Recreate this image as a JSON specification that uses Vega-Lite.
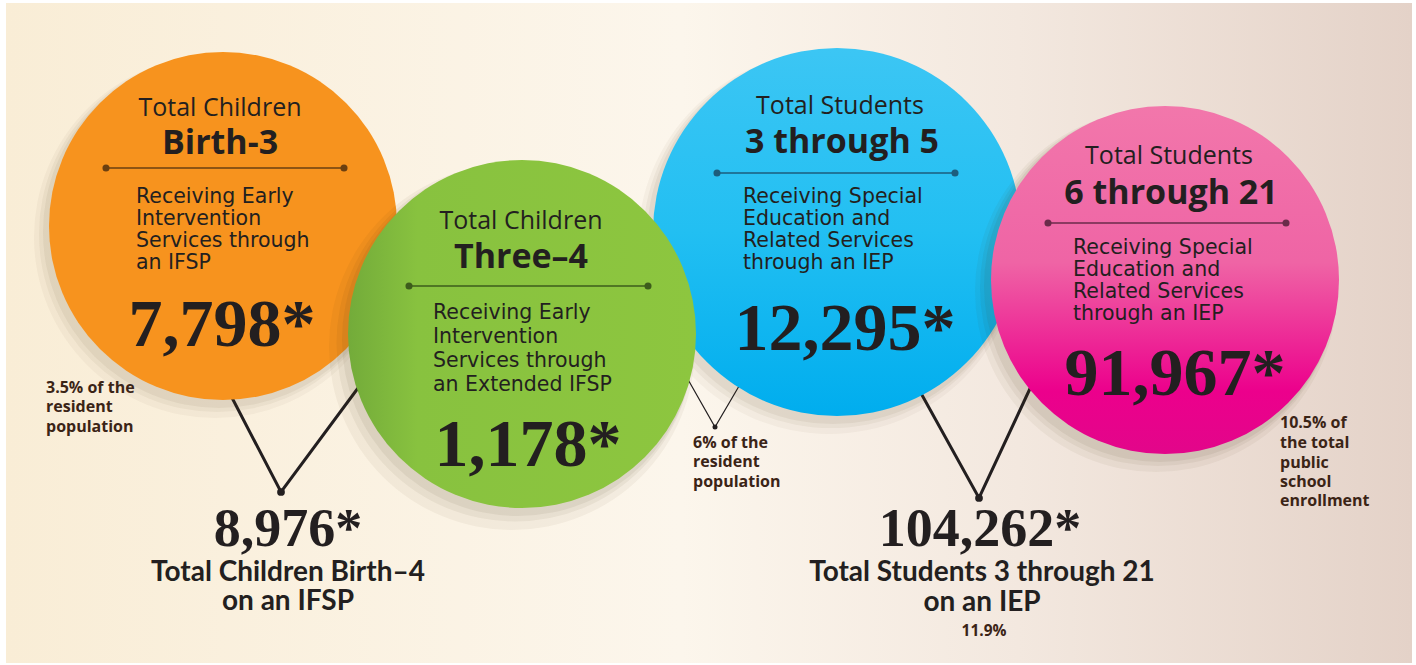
{
  "$schema": "https://vega.github.io/schema/vega-lite/v6.json",
  "autosize": {"type": "fit", "contains": "padding"},
  "width": 1416,
  "height": 665,
  "padding": {"left": 6, "top": 3, "right": 4, "bottom": 2},
  "background": "#ffffff",
  "config": {"view": {"stroke": null}},
  "datasets": {
    "circles": [
      {"group": "birth3", "x": 223, "y": 226},
      {"group": "s3to5", "x": 837, "y": 232},
      {"group": "three4", "x": 522, "y": 334},
      {"group": "s6to21", "x": 1165, "y": 280}
    ],
    "dividers": [
      {"group": "birth3", "x": 106, "xb": 344, "y": 168},
      {"group": "three4", "x": 409, "xb": 648, "y": 286},
      {"group": "s3to5", "x": 717, "xb": 955, "y": 173},
      {"group": "s6to21", "x": 1048, "xb": 1286, "y": 223}
    ],
    "connectors": [
      {"path": "A", "order": 1, "x": 228, "y": 390},
      {"path": "A", "order": 2, "x": 281, "y": 492},
      {"path": "A", "order": 3, "x": 361, "y": 384},
      {"path": "B", "order": 1, "x": 686, "y": 376},
      {"path": "B", "order": 2, "x": 715, "y": 427},
      {"path": "B", "order": 3, "x": 742, "y": 381},
      {"path": "C", "order": 1, "x": 917, "y": 386},
      {"path": "C", "order": 2, "x": 979, "y": 498},
      {"path": "C", "order": 3, "x": 1034, "y": 380}
    ],
    "labels": [
      {"group": "birth3", "role": "title", "text": "Total Children", "x": 220, "y": 108},
      {"group": "birth3", "role": "sub", "text": "Birth-3", "x": 220, "y": 144},
      {"group": "birth3", "role": "body", "text": "Receiving Early", "x": 136, "y": 197},
      {"group": "birth3", "role": "body", "text": "Intervention", "x": 136, "y": 219},
      {"group": "birth3", "role": "body", "text": "Services through", "x": 136, "y": 241},
      {"group": "birth3", "role": "body", "text": "an IFSP", "x": 136, "y": 263},
      {"group": "birth3", "role": "num", "text": "7,798*", "x": 222, "y": 323},
      {"group": "three4", "role": "title", "text": "Total Children", "x": 521, "y": 221},
      {"group": "three4", "role": "sub", "text": "Three–4", "x": 521, "y": 258},
      {"group": "three4", "role": "body", "text": "Receiving Early", "x": 433, "y": 313},
      {"group": "three4", "role": "body", "text": "Intervention", "x": 433, "y": 337},
      {"group": "three4", "role": "body", "text": "Services through", "x": 433, "y": 361},
      {"group": "three4", "role": "body", "text": "an Extended IFSP", "x": 433, "y": 385},
      {"group": "three4", "role": "num", "text": "1,178*", "x": 528, "y": 443},
      {"group": "s3to5", "role": "title", "text": "Total Students", "x": 840, "y": 106},
      {"group": "s3to5", "role": "sub", "text": "3 through 5", "x": 842, "y": 143},
      {"group": "s3to5", "role": "body", "text": "Receiving Special", "x": 743, "y": 197},
      {"group": "s3to5", "role": "body", "text": "Education and", "x": 743, "y": 219},
      {"group": "s3to5", "role": "body", "text": "Related Services", "x": 743, "y": 241},
      {"group": "s3to5", "role": "body", "text": "through an IEP", "x": 743, "y": 263},
      {"group": "s3to5", "role": "num", "text": "12,295*", "x": 845, "y": 327},
      {"group": "s6to21", "role": "title", "text": "Total Students", "x": 1169, "y": 156},
      {"group": "s6to21", "role": "sub", "text": "6 through 21", "x": 1171, "y": 194},
      {"group": "s6to21", "role": "body", "text": "Receiving Special", "x": 1073, "y": 248},
      {"group": "s6to21", "role": "body", "text": "Education and", "x": 1073, "y": 270},
      {"group": "s6to21", "role": "body", "text": "Related Services", "x": 1073, "y": 292},
      {"group": "s6to21", "role": "body", "text": "through an IEP", "x": 1073, "y": 314},
      {"group": "s6to21", "role": "num", "text": "91,967*", "x": 1175, "y": 372},
      {"group": "note", "role": "note", "text": "3.5% of the", "x": 46, "y": 388},
      {"group": "note", "role": "note", "text": "resident", "x": 46, "y": 407},
      {"group": "note", "role": "note", "text": "population", "x": 46, "y": 427},
      {"group": "note", "role": "note", "text": "6% of the", "x": 693, "y": 443},
      {"group": "note", "role": "note", "text": "resident", "x": 693, "y": 462},
      {"group": "note", "role": "note", "text": "population", "x": 693, "y": 482},
      {"group": "note", "role": "note", "text": "10.5% of", "x": 1280, "y": 423},
      {"group": "note", "role": "note", "text": "the total", "x": 1280, "y": 443},
      {"group": "note", "role": "note", "text": "public", "x": 1280, "y": 463},
      {"group": "note", "role": "note", "text": "school", "x": 1280, "y": 482},
      {"group": "note", "role": "note", "text": "enrollment", "x": 1280, "y": 501},
      {"group": "total", "role": "total", "text": "8,976*", "x": 288, "y": 528},
      {"group": "total", "role": "totalLabel", "text": "Total Children Birth–4", "x": 288, "y": 573},
      {"group": "total", "role": "totalLabel", "text": "on an IFSP", "x": 288, "y": 602},
      {"group": "total", "role": "total", "text": "104,262*", "x": 980, "y": 528},
      {"group": "total", "role": "totalLabel", "text": "Total Students 3 through 21", "x": 982, "y": 573},
      {"group": "total", "role": "totalLabel", "text": "on an IEP", "x": 982, "y": 603},
      {"group": "total", "role": "pct", "text": "11.9%", "x": 984, "y": 631}
    ]
  },
  "layer": [
    {
      "data": {"values": [{}]},
      "mark": {"type": "rect", "fill": {"gradient": "linear", "x1": 0, "y1": 0, "x2": 1, "y2": 0, "stops": [
        {"offset": 0, "color": "#f9edd6"},
        {"offset": 0.48, "color": "#fcf6ec"},
        {"offset": 0.72, "color": "#f3e8df"},
        {"offset": 1, "color": "#e4d2c8"}
      ]}},
      "encoding": {}
    },
    {
      "data": {"name": "connectors"},
      "transform": [{"filter": "datum.path != 'B'"}],
      "mark": {"type": "line", "color": "#231f20", "strokeWidth": 3},
      "encoding": {
        "x": {"field": "x", "type": "quantitative", "scale": {"domain": [6, 1412], "nice": false, "zero": false}, "axis": null},
        "y": {"field": "y", "type": "quantitative", "scale": {"domain": [3, 663], "nice": false, "zero": false, "reverse": true}, "axis": null},
        "detail": {"field": "path"},
        "order": {"field": "order"}
      }
    },
    {
      "data": {"name": "connectors"},
      "transform": [{"filter": "datum.path == 'B'"}],
      "mark": {"type": "line", "color": "#231f20", "strokeWidth": 1.2},
      "encoding": {
        "x": {"field": "x", "type": "quantitative"},
        "y": {"field": "y", "type": "quantitative"},
        "detail": {"field": "path"},
        "order": {"field": "order"}
      }
    },
    {
      "data": {"name": "connectors"},
      "transform": [{"filter": "datum.order == 2 && datum.path != 'B'"}],
      "mark": {"type": "point", "filled": true, "color": "#231f20", "size": 60, "opacity": 1},
      "encoding": {"x": {"field": "x", "type": "quantitative"}, "y": {"field": "y", "type": "quantitative"}}
    },
    {
      "data": {"name": "connectors"},
      "transform": [{"filter": "datum.order == 2 && datum.path == 'B'"}],
      "mark": {"type": "point", "filled": true, "color": "#231f20", "size": 25, "opacity": 1},
      "encoding": {"x": {"field": "x", "type": "quantitative"}, "y": {"field": "y", "type": "quantitative"}}
    },

    {"data": {"name": "circles"}, "transform": [{"filter": "datum.group == 'birth3'"}],
     "mark": {"type": "point", "shape": "circle", "filled": true, "color": "#4a3418", "opacity": 0.04, "size": 131044, "xOffset": -8, "yOffset": 11},
     "encoding": {"x": {"field": "x", "type": "quantitative"}, "y": {"field": "y", "type": "quantitative"}}},
    {"data": {"name": "circles"}, "transform": [{"filter": "datum.group == 'birth3'"}],
     "mark": {"type": "point", "shape": "circle", "filled": true, "color": "#4a3418", "opacity": 0.05, "size": 126736, "xOffset": -6, "yOffset": 8},
     "encoding": {"x": {"field": "x", "type": "quantitative"}, "y": {"field": "y", "type": "quantitative"}}},
    {"data": {"name": "circles"}, "transform": [{"filter": "datum.group == 'birth3'"}],
     "mark": {"type": "point", "shape": "circle", "filled": true, "color": "#4a3418", "opacity": 0.06, "size": 123904, "xOffset": -4, "yOffset": 6},
     "encoding": {"x": {"field": "x", "type": "quantitative"}, "y": {"field": "y", "type": "quantitative"}}},
    {"data": {"name": "circles"}, "transform": [{"filter": "datum.group == 'birth3'"}],
     "mark": {"type": "point", "shape": "circle", "filled": true, "opacity": 1, "size": 121104, "fill": "#f7931e"},
     "encoding": {"x": {"field": "x", "type": "quantitative"}, "y": {"field": "y", "type": "quantitative"}}},

    {"data": {"name": "circles"}, "transform": [{"filter": "datum.group == 's3to5'"}],
     "mark": {"type": "point", "shape": "circle", "filled": true, "color": "#4a3418", "opacity": 0.04, "size": 145924, "xOffset": -8, "yOffset": 11},
     "encoding": {"x": {"field": "x", "type": "quantitative"}, "y": {"field": "y", "type": "quantitative"}}},
    {"data": {"name": "circles"}, "transform": [{"filter": "datum.group == 's3to5'"}],
     "mark": {"type": "point", "shape": "circle", "filled": true, "color": "#4a3418", "opacity": 0.05, "size": 141376, "xOffset": -6, "yOffset": 8},
     "encoding": {"x": {"field": "x", "type": "quantitative"}, "y": {"field": "y", "type": "quantitative"}}},
    {"data": {"name": "circles"}, "transform": [{"filter": "datum.group == 's3to5'"}],
     "mark": {"type": "point", "shape": "circle", "filled": true, "color": "#4a3418", "opacity": 0.06, "size": 138384, "xOffset": -4, "yOffset": 6},
     "encoding": {"x": {"field": "x", "type": "quantitative"}, "y": {"field": "y", "type": "quantitative"}}},
    {"data": {"name": "circles"}, "transform": [{"filter": "datum.group == 's3to5'"}],
     "mark": {"type": "point", "shape": "circle", "filled": true, "opacity": 1, "size": 135424,
              "fill": {"gradient": "linear", "x1": 0, "y1": 0, "x2": 0, "y2": 1, "stops": [
                {"offset": 0, "color": "#3cc6f4"},
                {"offset": 0.5, "color": "#22bff2"},
                {"offset": 1, "color": "#00adee"}]}},
     "encoding": {"x": {"field": "x", "type": "quantitative"}, "y": {"field": "y", "type": "quantitative"}}},

    {"data": {"name": "circles"}, "transform": [{"filter": "datum.group == 'three4'"}],
     "mark": {"type": "point", "shape": "circle", "filled": true, "color": "#4a3418", "opacity": 0.05, "size": 133956, "xOffset": -10, "yOffset": 13},
     "encoding": {"x": {"field": "x", "type": "quantitative"}, "y": {"field": "y", "type": "quantitative"}}},
    {"data": {"name": "circles"}, "transform": [{"filter": "datum.group == 'three4'"}],
     "mark": {"type": "point", "shape": "circle", "filled": true, "color": "#4a3418", "opacity": 0.06, "size": 127449, "xOffset": -7, "yOffset": 9},
     "encoding": {"x": {"field": "x", "type": "quantitative"}, "y": {"field": "y", "type": "quantitative"}}},
    {"data": {"name": "circles"}, "transform": [{"filter": "datum.group == 'three4'"}],
     "mark": {"type": "point", "shape": "circle", "filled": true, "color": "#4a3418", "opacity": 0.07, "size": 123904, "xOffset": -4, "yOffset": 6},
     "encoding": {"x": {"field": "x", "type": "quantitative"}, "y": {"field": "y", "type": "quantitative"}}},
    {"data": {"name": "circles"}, "transform": [{"filter": "datum.group == 'three4'"}],
     "mark": {"type": "point", "shape": "circle", "filled": true, "opacity": 1, "size": 121104,
              "fill": {"gradient": "linear", "x1": 0, "y1": 0, "x2": 1, "y2": 0, "stops": [
                {"offset": 0, "color": "#73ab3a"},
                {"offset": 0.2, "color": "#88c23f"},
                {"offset": 1, "color": "#8dc63f"}]}},
     "encoding": {"x": {"field": "x", "type": "quantitative"}, "y": {"field": "y", "type": "quantitative"}}},

    {"data": {"name": "circles"}, "transform": [{"filter": "datum.group == 's6to21'"}],
     "mark": {"type": "point", "shape": "circle", "filled": true, "color": "#4a3418", "opacity": 0.05, "size": 131044, "xOffset": -9, "yOffset": 11},
     "encoding": {"x": {"field": "x", "type": "quantitative"}, "y": {"field": "y", "type": "quantitative"}}},
    {"data": {"name": "circles"}, "transform": [{"filter": "datum.group == 's6to21'"}],
     "mark": {"type": "point", "shape": "circle", "filled": true, "color": "#4a3418", "opacity": 0.06, "size": 126736, "xOffset": -7, "yOffset": 8},
     "encoding": {"x": {"field": "x", "type": "quantitative"}, "y": {"field": "y", "type": "quantitative"}}},
    {"data": {"name": "circles"}, "transform": [{"filter": "datum.group == 's6to21'"}],
     "mark": {"type": "point", "shape": "circle", "filled": true, "color": "#4a3418", "opacity": 0.07, "size": 123904, "xOffset": -5, "yOffset": 6},
     "encoding": {"x": {"field": "x", "type": "quantitative"}, "y": {"field": "y", "type": "quantitative"}}},
    {"data": {"name": "circles"}, "transform": [{"filter": "datum.group == 's6to21'"}],
     "mark": {"type": "point", "shape": "circle", "filled": true, "opacity": 1, "size": 121104,
              "fill": {"gradient": "linear", "x1": 0, "y1": 0, "x2": 0, "y2": 1, "stops": [
                {"offset": 0, "color": "#f277ab"},
                {"offset": 0.45, "color": "#ef64a5"},
                {"offset": 0.82, "color": "#ec008c"},
                {"offset": 1, "color": "#e2068a"}]}},
     "encoding": {"x": {"field": "x", "type": "quantitative"}, "y": {"field": "y", "type": "quantitative"}}},

    {"data": {"name": "dividers"},
     "mark": {"type": "rule", "strokeWidth": 1.6},
     "encoding": {
       "x": {"field": "x", "type": "quantitative"},
       "x2": {"field": "xb"},
       "y": {"field": "y", "type": "quantitative"},
       "color": {"field": "group", "type": "nominal", "scale": {"domain": ["birth3", "three4", "s3to5", "s6to21"], "range": ["#6b3f10", "#3d5c1c", "#1d5d7d", "#6b2b4a"]}, "legend": null}
     }},
    {"data": {"name": "dividers"},
     "mark": {"type": "point", "filled": true, "size": 50, "opacity": 1},
     "encoding": {
       "x": {"field": "x", "type": "quantitative"},
       "y": {"field": "y", "type": "quantitative"},
       "color": {"field": "group", "type": "nominal", "legend": null}
     }},
    {"data": {"name": "dividers"},
     "mark": {"type": "point", "filled": true, "size": 50, "opacity": 1},
     "encoding": {
       "x": {"field": "xb", "type": "quantitative"},
       "y": {"field": "y", "type": "quantitative"},
       "color": {"field": "group", "type": "nominal", "legend": null}
     }},

    {"data": {"name": "labels"}, "transform": [{"filter": "datum.role == 'title'"}],
     "mark": {"type": "text", "font": "Open Sans", "fontSize": 25, "fontWeight": 400, "color": "#231f20", "align": "center", "baseline": "middle"},
     "encoding": {"x": {"field": "x", "type": "quantitative"}, "y": {"field": "y", "type": "quantitative"}, "text": {"field": "text"}}},
    {"data": {"name": "labels"}, "transform": [{"filter": "datum.role == 'sub'"}],
     "mark": {"type": "text", "font": "Open Sans", "fontSize": 34, "fontWeight": "bold", "color": "#231f20", "align": "center", "baseline": "middle"},
     "encoding": {"x": {"field": "x", "type": "quantitative"}, "y": {"field": "y", "type": "quantitative"}, "text": {"field": "text"}}},
    {"data": {"name": "labels"}, "transform": [{"filter": "datum.role == 'body'"}],
     "mark": {"type": "text", "font": "DejaVu Sans", "fontSize": 20.5, "fontWeight": 400, "color": "#231f20", "align": "left", "baseline": "middle"},
     "encoding": {"x": {"field": "x", "type": "quantitative"}, "y": {"field": "y", "type": "quantitative"}, "text": {"field": "text"}}},
    {"data": {"name": "labels"}, "transform": [{"filter": "datum.role == 'num'"}],
     "mark": {"type": "text", "font": "Liberation Serif", "fontSize": 68, "fontWeight": "bold", "color": "#231f20", "align": "center", "baseline": "middle", "dy": 3},
     "encoding": {"x": {"field": "x", "type": "quantitative"}, "y": {"field": "y", "type": "quantitative"}, "text": {"field": "text"}}},
    {"data": {"name": "labels"}, "transform": [{"filter": "datum.role == 'note'"}],
     "mark": {"type": "text", "font": "Open Sans", "fontSize": 16, "fontWeight": "bold", "color": "#3b2416", "align": "left", "baseline": "middle"},
     "encoding": {"x": {"field": "x", "type": "quantitative"}, "y": {"field": "y", "type": "quantitative"}, "text": {"field": "text"}}},
    {"data": {"name": "labels"}, "transform": [{"filter": "datum.role == 'total'"}],
     "mark": {"type": "text", "font": "Liberation Serif", "fontSize": 54, "fontWeight": "bold", "color": "#231f20", "align": "center", "baseline": "middle", "dy": 2},
     "encoding": {"x": {"field": "x", "type": "quantitative"}, "y": {"field": "y", "type": "quantitative"}, "text": {"field": "text"}}},
    {"data": {"name": "labels"}, "transform": [{"filter": "datum.role == 'totalLabel'"}],
     "mark": {"type": "text", "font": "Lato", "fontSize": 28, "fontWeight": "bold", "color": "#231f20", "align": "center", "baseline": "middle"},
     "encoding": {"x": {"field": "x", "type": "quantitative"}, "y": {"field": "y", "type": "quantitative"}, "text": {"field": "text"}}},
    {"data": {"name": "labels"}, "transform": [{"filter": "datum.role == 'pct'"}],
     "mark": {"type": "text", "font": "Open Sans", "fontSize": 15.5, "fontWeight": "bold", "color": "#3b2416", "align": "center", "baseline": "middle"},
     "encoding": {"x": {"field": "x", "type": "quantitative"}, "y": {"field": "y", "type": "quantitative"}, "text": {"field": "text"}}}
  ]
}
